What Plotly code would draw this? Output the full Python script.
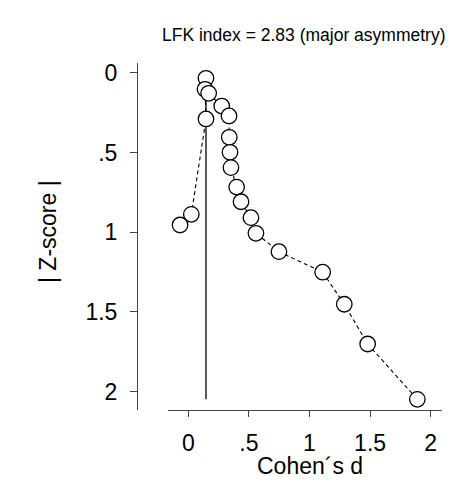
import numpy as np
import plotly.graph_objects as go

# Doi plot data (effect size vs |Z-score|), in effect-size (limb) order
cohens_d = [-0.068, 0.025, 0.146, 0.138, 0.146, 0.168, 0.276, 0.336, 0.338, 0.344,
            0.352, 0.399, 0.435, 0.517, 0.558, 0.748, 1.109, 1.287, 1.480, 1.890]
z_score = [0.955, 0.888, 0.290, 0.104, 0.035, 0.129, 0.209, 0.271, 0.405, 0.499,
           0.595, 0.717, 0.809, 0.909, 1.007, 1.122, 1.251, 1.452, 1.701, 2.048]

x_tickvals = [0, 0.5, 1, 1.5, 2]
x_ticktext = ["0", ".5", "1", "1.5", "2"]
y_tickvals = [0, 0.5, 1, 1.5, 2]
y_ticktext = ["0", ".5", "1", "1.5", "2"]

lfk_text = "LFK index = 2.83 (major asymmetry)"
x_title = "Cohen\u00b4s d"
y_title = "| Z-score |"

# page has an 8px default body margin; size the figure to fit the window
OFF = 8
W, H = 473 - 2 * OFF, 482 - 2 * OFF
FONT = "Liberation Sans, Arial, Helvetica, sans-serif"


def px(sx):
    return (sx - OFF) / W


def py(sy):
    return 1 - (sy - OFF) / H


x = np.array(cohens_d)
z = np.array(z_score)
imin = int(np.argmin(z))
order = np.argsort(z, kind="stable")

fig = go.Figure()
# vertical line at the effect of the most precise study
fig.add_trace(go.Scatter(x=[x[imin], x[imin]], y=[z.min(), z.max()], mode="lines",
                         line=dict(color="black", width=1.3), hoverinfo="skip",
                         showlegend=False))
# dashed connecting line
fig.add_trace(go.Scatter(x=x, y=z, mode="lines",
                         line=dict(color="black", width=1.1, dash="4px,3px"),
                         showlegend=False))
# markers
fig.add_trace(go.Scatter(x=x[order], y=z[order], mode="markers",
                         marker=dict(size=15.5, color="white",
                                     line=dict(color="black", width=1.3)),
                         showlegend=False))

x0, x1 = 168.3, 442.3
y0, y1 = 63, 410
fig.update_layout(
    width=W, height=H,
    margin=dict(l=0, r=0, t=0, b=0, autoexpand=False),
    paper_bgcolor="white", plot_bgcolor="white",
    font=dict(family=FONT, color="black"),
    xaxis=dict(domain=[px(x0), px(x1)], range=[-0.165, 2.096],
               anchor="free", position=py(y1),
               tickmode="array", tickvals=x_tickvals, ticktext=x_ticktext,
               ticks="outside", ticklen=6, tickwidth=1, tickcolor="#444",
               showline=True, linecolor="#444", linewidth=1,
               showgrid=False, zeroline=False,
               tickfont=dict(size=23, family=FONT, color="black"),
               ticklabelstandoff=6),
    yaxis=dict(domain=[py(y1), py(y0)], range=[2.115, -0.061],
               anchor="free", position=px(137),
               tickmode="array", tickvals=y_tickvals, ticktext=y_ticktext,
               ticks="outside", ticklen=7, tickwidth=1, tickcolor="#444",
               showline=True, linecolor="#444", linewidth=1,
               showgrid=False, zeroline=False,
               tickfont=dict(size=23, family=FONT, color="black"),
               ticklabelstandoff=8),
    annotations=[
        dict(text=lfk_text, xref="paper", yref="paper", x=px(303.5), y=py(35),
             xanchor="center", yanchor="middle", showarrow=False,
             font=dict(size=17.5, family=FONT, color="black")),
        dict(text=x_title, xref="paper", yref="paper", x=px(310), y=py(466),
             xanchor="center", yanchor="middle", showarrow=False,
             font=dict(size=23, family=FONT, color="black")),
        dict(text=y_title, xref="paper", yref="paper", x=px(48), y=py(232),
             xanchor="center", yanchor="middle", showarrow=False, textangle=-90,
             font=dict(size=23, family=FONT, color="black")),
    ],
)

fig.write_html("out.html")
